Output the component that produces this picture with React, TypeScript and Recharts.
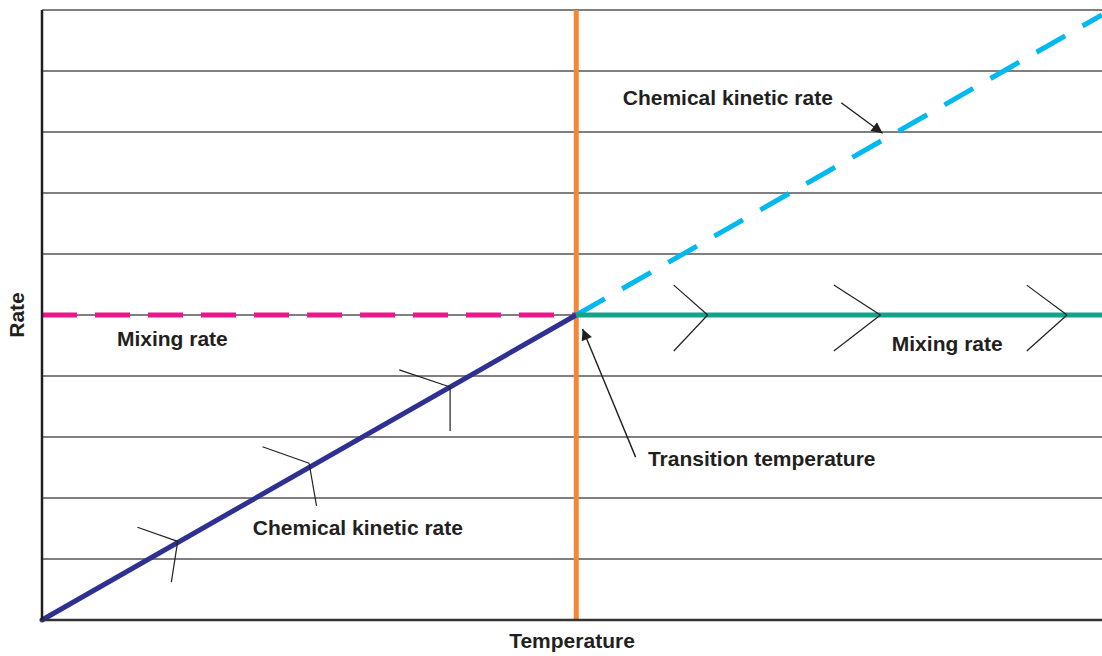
import {
  LineChart,
  Line,
  XAxis,
  YAxis,
  CartesianGrid,
  ReferenceLine,
  ReferenceDot,
} from "recharts";

// Temperature at which the regime changes, and the common rate there
const TRANSITION_T = 5.04;
const TRANSITION_RATE = 5;

const Y_TICKS = [0, 1, 2, 3, 4, 5, 6, 7, 8, 9, 10];

const KINETIC_LOW = [
  { x: 0, y: 0 },
  { x: TRANSITION_T, y: TRANSITION_RATE },
];
const KINETIC_HIGH = [
  { x: TRANSITION_T, y: TRANSITION_RATE },
  { x: 10, y: 9.92 },
];
const MIXING_LOW = [
  { x: 0, y: TRANSITION_RATE },
  { x: TRANSITION_T, y: TRANSITION_RATE },
];
const MIXING_HIGH = [
  { x: TRANSITION_T, y: TRANSITION_RATE },
  { x: 10, y: TRANSITION_RATE },
];

// chevron marks: [armA, vertex, armB]
const CHEVRONS: { x: number; y: number }[][] = [
  [{ x: 0.9, y: 1.52 }, { x: 1.28, y: 1.29 }, { x: 1.22, y: 0.62 }],
  [{ x: 2.08, y: 2.84 }, { x: 2.52, y: 2.57 }, { x: 2.59, y: 1.87 }],
  [{ x: 3.37, y: 4.1 }, { x: 3.85, y: 3.82 }, { x: 3.85, y: 3.1 }],
  [{ x: 5.96, y: 5.49 }, { x: 6.28, y: 5 }, { x: 5.96, y: 4.41 }],
  [{ x: 7.47, y: 5.49 }, { x: 7.91, y: 5 }, { x: 7.47, y: 4.41 }],
  [{ x: 9.29, y: 5.49 }, { x: 9.67, y: 5 }, { x: 9.29, y: 4.41 }],
];

// arrows: from, to (tip)
const ARROWS = [
  { from: { x: 7.54, y: 8.48 }, to: { x: 7.93, y: 7.98 } },
  { from: { x: 5.6, y: 2.67 }, to: { x: 5.1, y: 4.77 } },
];

const LABELS = [
  { text: "Chemical kinetic rate", x: 6.47, y: 8.56 },
  { text: "Mixing rate", x: 1.23, y: 4.61 },
  { text: "Mixing rate", x: 8.54, y: 4.53 },
  { text: "Chemical kinetic rate", x: 2.98, y: 1.51 },
  { text: "Transition temperature", x: 6.79, y: 2.64 },
];

const FONT = "'Liberation Sans', Arial, sans-serif";
const INK = "#231f20";
const FS = 21;

function ArrowShape(props: any) {
  const { x1, y1, x2, y2 } = props;
  return (
    <line
      x1={x1}
      y1={y1}
      x2={x2}
      y2={y2}
      stroke={INK}
      strokeWidth={1.4}
      markerEnd="url(#arrowHead)"
    />
  );
}

const NoTick = () => <g />;

export default function App() {
  return (
    <div style={{ position: "absolute", left: 0, top: 0, background: "#fff" }}>
      <LineChart
        width={1102}
        height={656}
        margin={{ top: 10, right: 0, bottom: 0, left: 0 }}
        style={{ fontFamily: FONT }}
      >
        <defs>
          <marker
            id="arrowHead"
            viewBox="0 0 10 10"
            refX="10"
            refY="5"
            markerWidth="13"
            markerHeight="11"
            markerUnits="userSpaceOnUse"
            orient="auto"
          >
            <path d="M0,0 L10,5 L0,10 z" fill={INK} />
          </marker>
        </defs>

        <CartesianGrid vertical={false} stroke="#000" strokeWidth={1.1} />

        <XAxis
          type="number"
          dataKey="x"
          domain={[0, 10]}
          ticks={[0, 10]}
          tick={false}
          tickLine={false}
          height={36}
          axisLine={{ stroke: "#333", strokeWidth: 2.5 }}
          label={{
            value: "Temperature",
            position: "insideBottom",
            offset: 8,
            style: { fill: INK, fontSize: FS, fontWeight: 700, fontFamily: FONT },
          }}
        />
        <YAxis
          type="number"
          domain={[0, 10]}
          ticks={Y_TICKS}
          tick={NoTick}
          tickLine={false}
          width={42}
          axisLine={{ stroke: INK, strokeWidth: 2.5 }}
          label={{
            value: "Rate",
            angle: -90,
            position: "insideLeft",
            offset: 17,
            style: { fill: INK, fontSize: FS, fontWeight: 700, fontFamily: FONT, textAnchor: "middle" },
          }}
        />

        <ReferenceLine
          x={TRANSITION_T}
          stroke="#f58634"
          strokeWidth={5}
        />

        <Line
          data={MIXING_LOW}
          dataKey="y"
          stroke="#e8178a"
          strokeWidth={5}
          strokeDasharray="35 18"
          dot={false}
          isAnimationActive={false}
        />
        <Line
          data={KINETIC_LOW}
          dataKey="y"
          stroke="#2e3192"
          strokeWidth={5}
          strokeLinecap="round"
          dot={false}
          isAnimationActive={false}
        />
        <Line
          data={KINETIC_HIGH}
          dataKey="y"
          stroke="#00b9f1"
          strokeWidth={5}
          strokeDasharray="33 20"
          dot={false}
          isAnimationActive={false}
        />
        <Line
          data={MIXING_HIGH}
          dataKey="y"
          stroke="#13a388"
          strokeWidth={5}
          dot={false}
          isAnimationActive={false}
        />

        {CHEVRONS.flatMap((c, i) => [
          <ReferenceLine
            key={`ca${i}`}
            segment={[c[0], c[1]]}
            stroke={INK}
            strokeWidth={1.2}
          />,
          <ReferenceLine
            key={`cb${i}`}
            segment={[c[1], c[2]]}
            stroke={INK}
            strokeWidth={1.2}
          />,
        ])}

        {ARROWS.map((a, i) => (
          <ReferenceLine
            key={`ar${i}`}
            segment={[a.from, a.to]}
            shape={ArrowShape}
          />
        ))}

        {LABELS.map((l, i) => (
          <ReferenceDot
            key={`lb${i}`}
            x={l.x}
            y={l.y}
            r={0}
            fill="none"
            stroke="none"
            label={{
              value: l.text,
              position: "center",
              style: { fill: INK, fontSize: FS, fontWeight: 700, fontFamily: FONT },
            }}
          />
        ))}
      </LineChart>
    </div>
  );
}
